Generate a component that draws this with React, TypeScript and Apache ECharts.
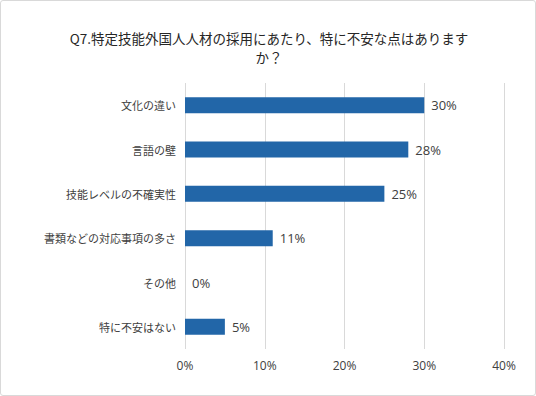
import React, { useEffect, useRef } from "react";
import * as echarts from "echarts";

const categories = ["文化の違い", "言語の壁", "技能レベルの不確実性", "書類などの対応事項の多さ", "その他", "特に不安はない"];
const values = [30, 28, 25, 11, 0, 5];
const titleLines = ["Q7.特定技能外国人人材の採用にあたり、特に不安な点はあります", "か？"];

export default function App() {
  const ref = useRef<HTMLDivElement>(null);
  useEffect(() => {
    const chart = echarts.init(ref.current!, null, { renderer: "svg" });
    const font = "'Noto Sans CJK JP', 'Noto Sans', sans-serif";
    const numFont = "'Open Sans', 'Noto Sans', sans-serif";
    chart.setOption({
      animation: false,
      textStyle: { fontFamily: font },
      graphic: [
        {
          type: "text",
          x: 268,
          y: 27,
          style: {
            text: titleLines.join("\n"),
            align: "center",
            verticalAlign: "top",
            font: `13.5px ${font}`,
            lineHeight: 19,
            fill: "#262626",
          },
        },
      ],
      grid: { left: 184, right: 31, top: 82, bottom: 46 },
      xAxis: {
        type: "value",
        min: 0,
        max: 40,
        interval: 10,
        axisLabel: { formatter: "{value}%", color: "#404040", fontSize: 12, margin: 10, fontFamily: numFont },
        splitLine: { lineStyle: { color: "#d9d9d9" } },
        axisLine: { show: false },
        axisTick: { show: false },
      },
      yAxis: {
        type: "category",
        data: categories,
        inverse: true,
        axisLabel: { color: "#404040", fontSize: 11, margin: 9 },
        axisLine: { show: false },
        axisTick: { show: false },
      },
      series: [
        {
          type: "bar",
          data: values,
          barWidth: 16,
          itemStyle: { color: "#2266a8" },
          label: { show: true, position: "right", formatter: "{c}%", color: "#404040", fontSize: 13, distance: 7, fontFamily: numFont },
        },
      ],
    });
    return () => chart.dispose();
  }, []);
  return (
    <div
      ref={ref}
      style={{
        position: "fixed",
        left: 0,
        top: 0,
        width: 536,
        height: 396,
        boxSizing: "border-box",
        border: "1px solid #d9d9d9",
        borderRadius: 3,
        background: "#fff",
      }}
    />
  );
}
